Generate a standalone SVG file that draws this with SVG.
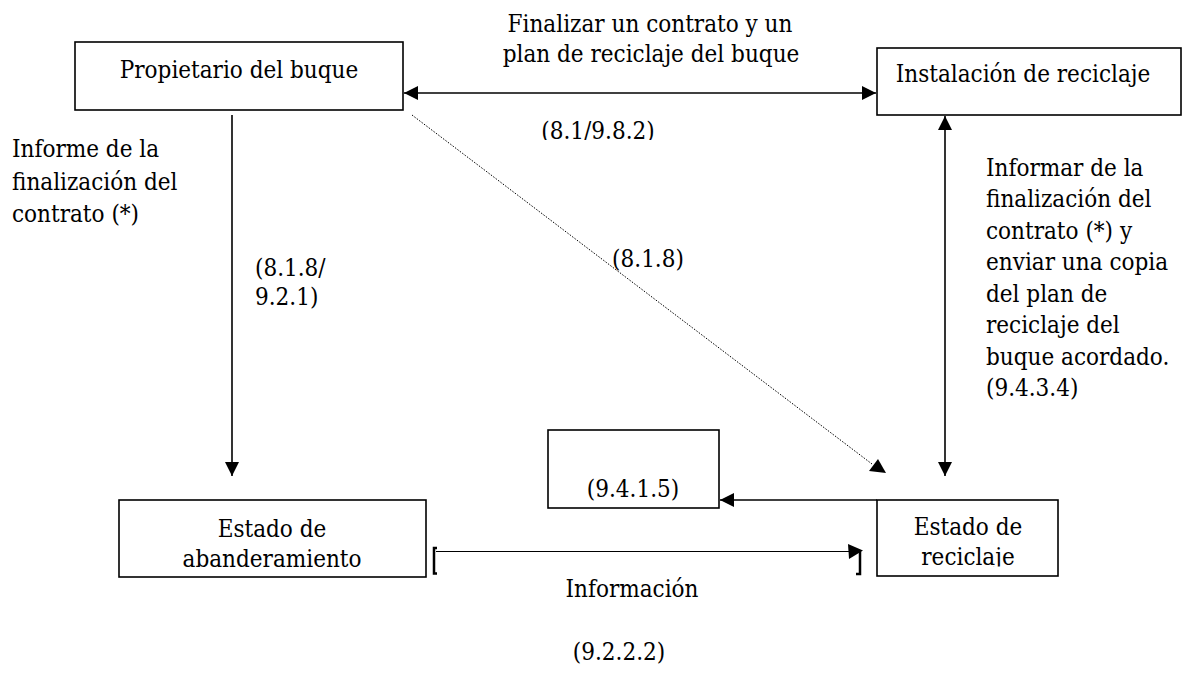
<svg xmlns="http://www.w3.org/2000/svg" width="1183" height="673" viewBox="0 0 1183 673">
<style>
text{font-family:"DejaVu Serif Condensed","DejaVu Serif",serif;font-stretch:condensed;font-size:24px;fill:#000}
.c{text-anchor:middle}
.box{fill:#fff;stroke:#000;stroke-width:1.6}
.ln{fill:none;stroke:#000;stroke-width:1.6}
.thin{fill:none;stroke:#000;stroke-width:1}
.dot{fill:none;stroke:#000;stroke-width:1;stroke-dasharray:1.5 1.5}
</style>
<defs>
<marker id="ah" viewBox="0 0 14 14" markerWidth="14" markerHeight="14" refX="14" refY="7" orient="auto-start-reverse" markerUnits="userSpaceOnUse">
<path d="M0,0 L14,7 L0,14 Z" fill="#000"/>
</marker>
<clipPath id="clipA"><rect x="450" y="100" width="300" height="40"/></clipPath>
<clipPath id="clipB"><rect x="877" y="500" width="181" height="66.5"/></clipPath>
</defs>

<g id="connectors">
<line class="ln" x1="404" y1="93" x2="876" y2="93" marker-start="url(#ah)" marker-end="url(#ah)"/>
<line class="ln" x1="232" y1="115" x2="232" y2="476" marker-end="url(#ah)"/>
<line class="ln" x1="945" y1="116" x2="945" y2="476" marker-start="url(#ah)" marker-end="url(#ah)"/>
<line class="dot" x1="412" y1="115" x2="872" y2="464"/>
<path d="M886,473 L869,471 L878,459 Z" fill="#000"/>
<line class="ln" x1="877" y1="500" x2="720" y2="500" marker-end="url(#ah)"/>
<line class="thin" x1="436" y1="551.5" x2="850" y2="551.5"/>
<path d="M437,548 L434,548 L434,573.5 L437,573.5" fill="none" stroke="#000" stroke-width="2.5"/>
<path d="M848,544 L863,550.5 L849,559 Z" fill="#000"/>
<path d="M860,550 L860,574 L856,574" fill="none" stroke="#000" stroke-width="2.5"/>
</g>

<g id="labels">
<text class="c" x="650" y="32">Finalizar un contrato y un</text>
<text class="c" x="651" y="62">plan de reciclaje del buque</text>
<text class="c" x="598" y="139" clip-path="url(#clipA)">(8.1/9.8.2)</text>
<text x="12" y="157">Informe de la</text>
<text x="12" y="190">finalización del</text>
<text x="12" y="222">contrato (*)</text>
<text x="255" y="276">(8.1.8/</text>
<text x="255" y="305">9.2.1)</text>
<text class="c" x="648" y="267">(8.1.8)</text>
<text x="986" y="176">Informar de la</text>
<text x="986" y="207">finalización del</text>
<text x="986" y="239">contrato (*) y</text>
<text x="986" y="270">enviar una copia</text>
<text x="986" y="302">del plan de</text>
<text x="986" y="333">reciclaje del</text>
<text x="986" y="365">buque acordado.</text>
<text x="986" y="396">(9.4.3.4)</text>
<text class="c" x="632" y="597">Información</text>
<text class="c" x="619" y="660">(9.2.2.2)</text>
</g>

<g id="propietario">
<rect class="box" x="75" y="42" width="328" height="68"/>
<text class="c" x="239" y="78">Propietario del buque</text>
</g>
<g id="instalacion">
<rect class="box" x="877" y="48" width="304" height="67"/>
<text class="c" x="1023" y="82">Instalación de reciclaje</text>
</g>
<g id="abanderamiento">
<rect class="box" x="119" y="500" width="307" height="77"/>
<text class="c" x="272" y="537">Estado de</text>
<text class="c" x="272" y="567">abanderamiento</text>
</g>
<g id="box9415">
<rect class="box" x="548" y="430" width="171" height="78"/>
<text class="c" x="633" y="497">(9.4.1.5)</text>
</g>
<g id="reciclaje">
<rect class="box" x="877" y="500" width="181" height="76"/>
<text class="c" x="968" y="535">Estado de</text>
<text class="c" x="968" y="565" clip-path="url(#clipB)">reciclaje</text>
</g>
</svg>
